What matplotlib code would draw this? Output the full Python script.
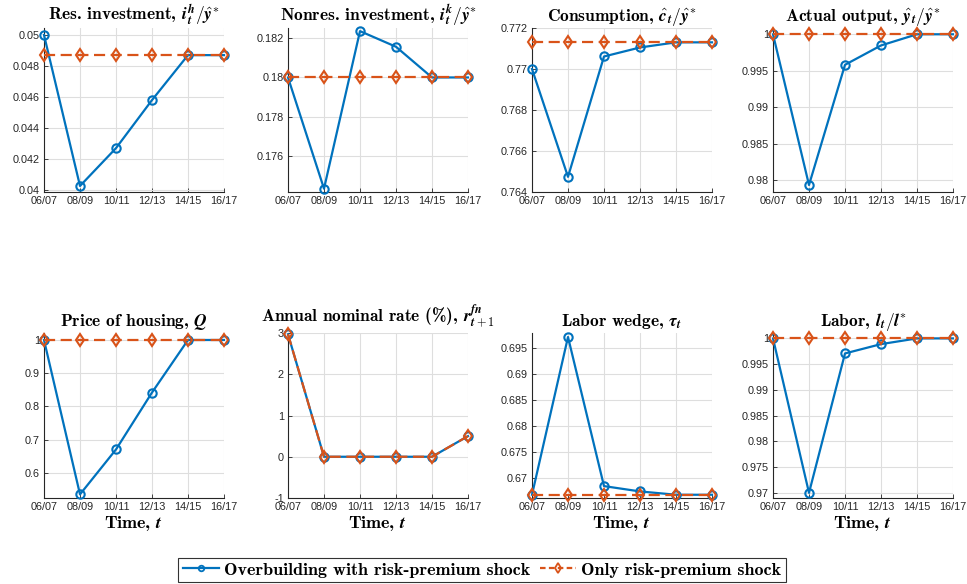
import matplotlib
matplotlib.use("Agg")
import matplotlib.pyplot as plt
from matplotlib.lines import Line2D

plt.rcParams['mathtext.fontset'] = 'cm'
plt.rcParams['font.family'] = ['Liberation Sans', 'DejaVu Sans']

periods = ['06/07', '08/09', '10/11', '12/13', '14/15', '16/17']

titles = [
    r'Res. investment, $\boldsymbol{i}^{\boldsymbol{h}}_{\boldsymbol{t}}/\hat{\boldsymbol{y}}^{*}$',
    r'Nonres. investment, $\boldsymbol{i}^{\boldsymbol{k}}_{\boldsymbol{t}}/\hat{\boldsymbol{y}}^{*}$',
    r'Consumption, $\hat{\boldsymbol{c}}_{\boldsymbol{t}}/\hat{\boldsymbol{y}}^{*}$',
    r'Actual output, $\hat{\boldsymbol{y}}_{\boldsymbol{t}}/\hat{\boldsymbol{y}}^{*}$',
    r'Price of housing, $\boldsymbol{Q}$',
    r'Annual nominal rate (%), $\boldsymbol{r}^{\boldsymbol{fn}}_{\boldsymbol{t}+\mathbf{1}}$',
    r'Labor wedge, $\boldsymbol{\tau}_{\boldsymbol{t}}$',
    r'Labor, $\boldsymbol{l}_{\boldsymbol{t}}/\boldsymbol{l}^{*}$',
]

overbuilding = [
    [0.0500, 0.04026, 0.0427, 0.0458, 0.0487, 0.0487],
    [0.180, 0.17431, 0.18237, 0.18157, 0.180, 0.180],
    [0.7700, 0.76474, 0.77061, 0.77105, 0.7713, 0.7713],
    [1.000, 0.97936, 0.99582, 0.99847, 1.000, 1.000],
    [1.000, 0.5357, 0.6708, 0.842, 1.000, 1.000],
    [2.97, 0.0, 0.0, 0.0, 0.0, 0.5],
    [0.66667, 0.69717, 0.66834, 0.66731, 0.66667, 0.66667],
    [1.000, 0.970, 0.99708, 0.99889, 1.000, 1.000],
]

risk_premium_only = [
    [0.0487] * 6,
    [0.180] * 6,
    [0.7713] * 6,
    [1.000] * 6,
    [1.000] * 6,
    [2.97, 0.0, 0.0, 0.0, 0.0, 0.5],
    [0.66667] * 6,
    [1.000] * 6,
]

ylims = [
    (0.03987, 0.05045),
    (0.17414, 0.18253),
    (0.764, 0.772),
    (0.9784, 1.00086),
    (0.5248, 1.021),
    (-1, 3),
    (0.66604, 0.69794),
    (0.969, 1.00105),
]

yticks = [
    [0.040, 0.042, 0.044, 0.046, 0.048, 0.050],
    [0.176, 0.178, 0.180, 0.182],
    [0.764, 0.766, 0.768, 0.770, 0.772],
    [0.980, 0.985, 0.990, 0.995, 1.000],
    [0.6, 0.7, 0.8, 0.9, 1.0],
    [-1, 0, 1, 2, 3],
    [0.670, 0.675, 0.680, 0.685, 0.690, 0.695],
    [0.970, 0.975, 0.980, 0.985, 0.990, 0.995, 1.000],
]

legend_labels = ['Overbuilding with risk-premium shock', 'Only risk-premium shock']

BLUE = '#0072BD'
ORANGE = '#D95319'
TXT = '#262626'

W, H = 967, 584
fig = plt.figure(figsize=(W / 100, H / 100), dpi=100)

lefts = [44, 288, 532, 773]
rows = [(28, 192), (333, 498)]
aw = 180

def fmt(v):
    s = ('%.4f' % v).rstrip('0').rstrip('.')
    return s

x = list(range(len(periods)))
for i in range(8):
    r, c = divmod(i, 4)
    top, bot = rows[r]
    ax = fig.add_axes([lefts[c] / W, 1 - bot / H, aw / W, (bot - top) / H])
    ax.plot(x, overbuilding[i], color=BLUE, lw=1.6, marker='o', ms=6,
            mfc='none', mew=1.5, clip_on=False, zorder=3)
    ax.plot(x, risk_premium_only[i], color=ORANGE, lw=1.6, marker='d', ms=6.5,
            mfc='none', mew=1.5, dashes=(5, 2.5), clip_on=False, zorder=4)
    ax.set_xlim(0, 5)
    ax.set_ylim(*ylims[i])
    ax.set_xticks(x)
    ax.set_xticklabels(periods)
    ax.set_yticks(yticks[i])
    ax.set_yticklabels([fmt(v) for v in yticks[i]])
    ax.grid(True, color='#dedede', lw=0.8)
    ax.set_axisbelow(True)
    for s in ['top', 'right']:
        ax.spines[s].set_visible(False)
    for s in ['left', 'bottom']:
        ax.spines[s].set_color(TXT)
        ax.spines[s].set_linewidth(0.8)
    ax.tick_params(direction='in', length=3, width=0.6, colors=TXT,
                   labelsize=7.8, pad=3, labelcolor=TXT)
    ax.set_title(titles[i], fontfamily='cmb10', fontsize=12.5,
                 pad=(8 if i == 5 else 5), color='black')
    if r == 1:
        ax.set_xlabel(r'Time, $\boldsymbol{t}$', fontfamily='cmb10', fontsize=13, labelpad=1)

handles = [
    Line2D([], [], color=BLUE, lw=1.6, marker='o', ms=4, mfc='none', mew=1.3),
    Line2D([], [], color=ORANGE, lw=1.6, marker='d', ms=5, mfc='none', mew=1.3,
           dashes=(2.5, 1.5)),
]
leg = fig.legend(handles, legend_labels, loc='lower center', ncol=2,
                 bbox_to_anchor=(0.4985, 0.0), frameon=True, fancybox=False,
                 prop={'family': 'cmb10', 'size': 13}, handlelength=2.0,
                 handletextpad=0.3, columnspacing=0.5, borderpad=0.25,
                 borderaxespad=0.1)
leg.get_frame().set_edgecolor('black')
leg.get_frame().set_linewidth(0.8)

fig.savefig('out.png', dpi=100)
